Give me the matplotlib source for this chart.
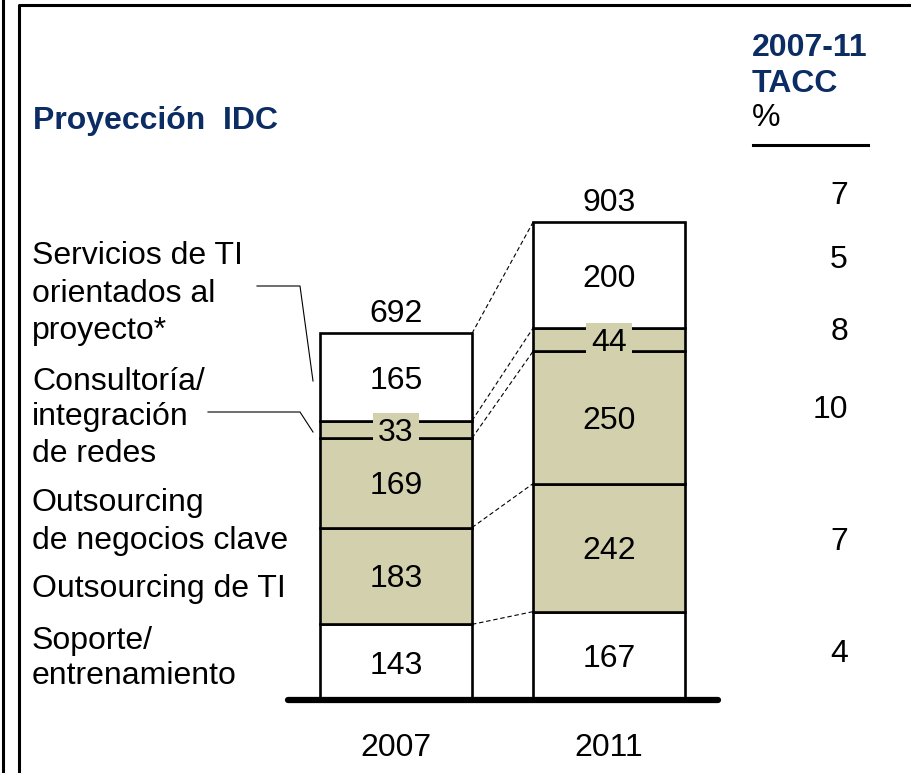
import matplotlib
matplotlib.use("Agg")
import matplotlib.pyplot as plt
import numpy as np

plt.rcParams['font.family'] = ['Liberation Sans', 'DejaVu Sans']

# ---- data -----------------------------------------------------------------
years = ["2007", "2011"]
totals = [692, 903]
# stacked from the bottom up
segments = ["Soporte/entrenamiento", "Outsourcing de TI",
            "Outsourcing de negocios clave", "Consultoría/integración de redes",
            "Servicios de TI orientados al proyecto*"]
values_2007 = [143, 183, 169, 33, 165]
values_2011 = [167, 242, 250, 44, 200]
shaded = [False, True, True, True, False]
tacc = ["4", "7", "10", "8", "5", "7"]

segment_lines = [
    ["Servicios de TI", "orientados al", "proyecto*"],
    ["Consultoría/", "integración", "de redes"],
    ["Outsourcing", "de negocios clave"],
    ["Outsourcing de TI"],
    ["Soporte/", "entrenamiento"],
]

# ---- style ----------------------------------------------------------------
TAN = "#D3D0AD"
NAVY = "#0B2D63"
FS = 23
W, H = 912, 773
VA = "center_baseline"

fig = plt.figure(figsize=(W / 100, H / 100), dpi=100)

# bar axes: baseline at 700 px from top, 0.529 px per unit, bar centres at 396/609 px
px_per_unit = 0.529
x0_px, dx_px = 396.0, 213.0
base_px = 700.0
ax = fig.add_axes([0, 0, 1, 1])
ax.set_xlim(-x0_px / dx_px, (W - x0_px) / dx_px)
ax.set_ylim(-(H - base_px) / px_per_unit, base_px / px_per_unit)
ax.axis("off")

# overlay in pixel coordinates for frame and side texts
pix = fig.add_axes([0, 0, 1, 1], zorder=-1)
pix.set_xlim(0, W)
pix.set_ylim(H, 0)
pix.axis("off")

bar_w = 152.0 / dx_px
xs = np.arange(len(years))
series = [values_2007, values_2011]

cums = []
for i, vals in enumerate(series):
    bottom = 0
    c = [0]
    for j, v in enumerate(vals):
        ax.bar(xs[i], v, bottom=bottom, width=bar_w,
               color=TAN if shaded[j] else "white",
               edgecolor="black", linewidth=1.9, zorder=2)
        bottom += v
        c.append(bottom)
    cums.append(c)

# segment value labels
for i, vals in enumerate(series):
    for j, v in enumerate(vals):
        yc = cums[i][j] + v / 2
        kw = {}
        if v < 60:
            kw["bbox"] = dict(boxstyle="square,pad=0.15", fc=TAN, ec="none")
        ax.text(xs[i], yc, str(v), ha="center", va=VA,
                fontsize=FS, zorder=4, **kw)

# totals above bars
for i, t in enumerate(totals):
    ax.annotate(str(t), (xs[i], cums[i][-1]), xytext=(0, 8.5),
                textcoords="offset points", ha="center", va="baseline",
                fontsize=FS)

# dashed connectors between matching boundaries
for k in range(1, len(segments) + 1):
    ax.plot([xs[0] + bar_w / 2, xs[1] - bar_w / 2],
            [cums[0][k], cums[1][k]],
            color="black", lw=0.8, ls=(0, (4, 2.5)), zorder=1)

# baseline
ax.plot([(288 - x0_px) / dx_px, (718 - x0_px) / dx_px], [0, 0],
        color="black", lw=4.5, solid_capstyle="round", zorder=3)

# year labels
for i, y in enumerate(years):
    ax.text(xs[i], -(745 - base_px) / px_per_unit, y, ha="center",
            va=VA, fontsize=FS)

# frame
pix.plot([3, 3], [0, H], color="black", lw=2.2)
pix.plot([19, 19, W], [H, 5, 5], color="black", lw=2.2)

# title
pix.text(33, 118, "Proyección  IDC", color=NAVY, fontsize=FS,
         fontweight="bold", ha="left", va=VA)

# TACC column header
pix.text(752, 44, "2007-11", color=NAVY, fontsize=FS, fontweight="bold",
         ha="left", va=VA)
pix.text(752, 80, "TACC", color=NAVY, fontsize=FS, fontweight="bold",
         ha="left", va=VA)
pix.text(752, 115, "%", color="black", fontsize=FS, ha="left", va=VA)
pix.plot([753, 868], [145, 145], color="black", lw=2.2)

tacc_y = [650, 538, 407, 328, 256, 192]
for v, y in zip(tacc, tacc_y):
    pix.text(848, y, v, fontsize=FS, ha="right", va=VA)

# segment names on the left
line_y = [[253, 290, 327], [378, 414, 451], [500, 537], [586], [637, 673]]
for lines, ys in zip(segment_lines, line_y):
    for s, y in zip(lines, ys):
        pix.text(32, y, s, fontsize=FS, ha="left", va=VA)

# leader lines
pix.plot([257, 300, 313], [286, 286, 381], color="black", lw=0.8)
pix.plot([208, 300, 313], [412, 412, 432], color="black", lw=0.8)

fig.savefig("out.png", dpi=100)
